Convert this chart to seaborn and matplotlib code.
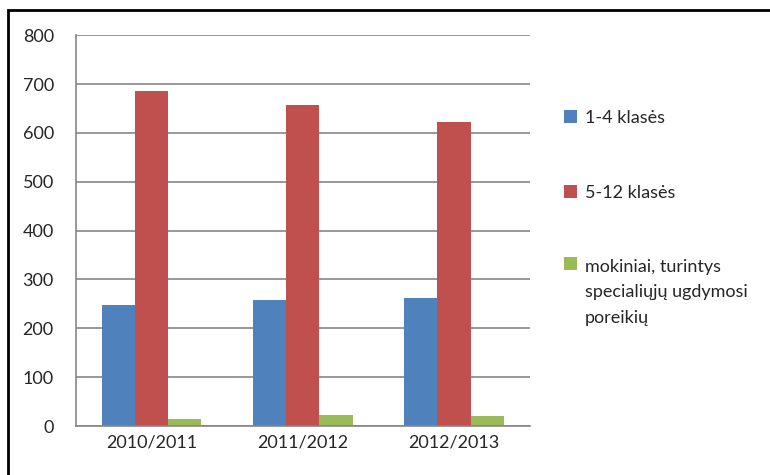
import numpy as np
import pandas as pd
import matplotlib
matplotlib.use("Agg")
import matplotlib.pyplot as plt
import seaborn as sns
from matplotlib.patches import Rectangle
from matplotlib.legend_handler import HandlerPatch

years = ["2010/2011", "2011/2012", "2012/2013"]
series = ["1-4 klasės", "5-12 klasės", "mokiniai, turintys\nspecialiųjų ugdymosi\nporeikių"]
vals_1_4 = [248, 258, 262]
vals_5_12 = [685, 658, 622]
vals_spec = [14, 22, 20]
colors = ["#4F81BD", "#C0504D", "#9BBB59"]

df = pd.DataFrame({
    "year": years * 3,
    "series": [series[0]] * 3 + [series[1]] * 3 + [series[2]] * 3,
    "value": vals_1_4 + vals_5_12 + vals_spec,
})

sns.set_style("white")
plt.rcParams['font.family'] = ['Lato', 'DejaVu Sans']

fig = plt.figure(figsize=(7.7, 4.75), dpi=100)
ax = fig.add_axes([0.0987, 0.103, 0.589, 0.823])

sns.barplot(data=df, x="year", y="value", hue="series", palette=colors,
            width=0.66, saturation=1, linewidth=0, ax=ax, legend=True)

ax.set_ylim(0, 800)
ax.set_xlim(-0.5, 2.5)
ax.set_yticks(np.arange(0, 801, 100))
ax.set_xlabel("")
ax.set_ylabel("")
ax.yaxis.grid(True, color="#868686", linewidth=1.2)
ax.set_axisbelow(True)

for s in ["top", "right"]:
    ax.spines[s].set_visible(False)
for s in ["left", "bottom"]:
    ax.spines[s].set_color("#868686")
    ax.spines[s].set_linewidth(1.2)

ax.tick_params(axis="y", length=8, color="#868686", width=1.2, labelsize=13, pad=8)
ax.set_xticks([-0.5, 0.5, 1.5, 2.5], minor=True)
ax.tick_params(axis="x", which="minor", length=8, color="#868686", width=1.2)
ax.tick_params(axis="x", which="major", length=0, labelsize=13, pad=6)


# legend squares sit on the first line of the label, like in Excel
def top_square(legend, orig_handle, xdescent, ydescent, width, height, fontsize):
    n = orig_handle.get_label().count("\n")
    return Rectangle((-xdescent, -ydescent + n * 10.5), width, height)


handles, labels = ax.get_legend_handles_labels()
leg = ax.legend(handles, labels, loc="upper left", bbox_to_anchor=(1.04, 0.85),
                frameon=False, fontsize=13, handlelength=0.75, handleheight=0.75,
                handletextpad=0.4, labelspacing=3.25, alignment="left",
                handler_map={h: HandlerPatch(patch_func=top_square) for h in handles})
for t in leg.get_texts():
    t.set_linespacing(1.7)

fig.patches.append(Rectangle((0.011, -0.1), 1.2, 1.079, transform=fig.transFigure,
                             fill=False, edgecolor="black", linewidth=2))

fig.savefig("out.png", dpi=100)
